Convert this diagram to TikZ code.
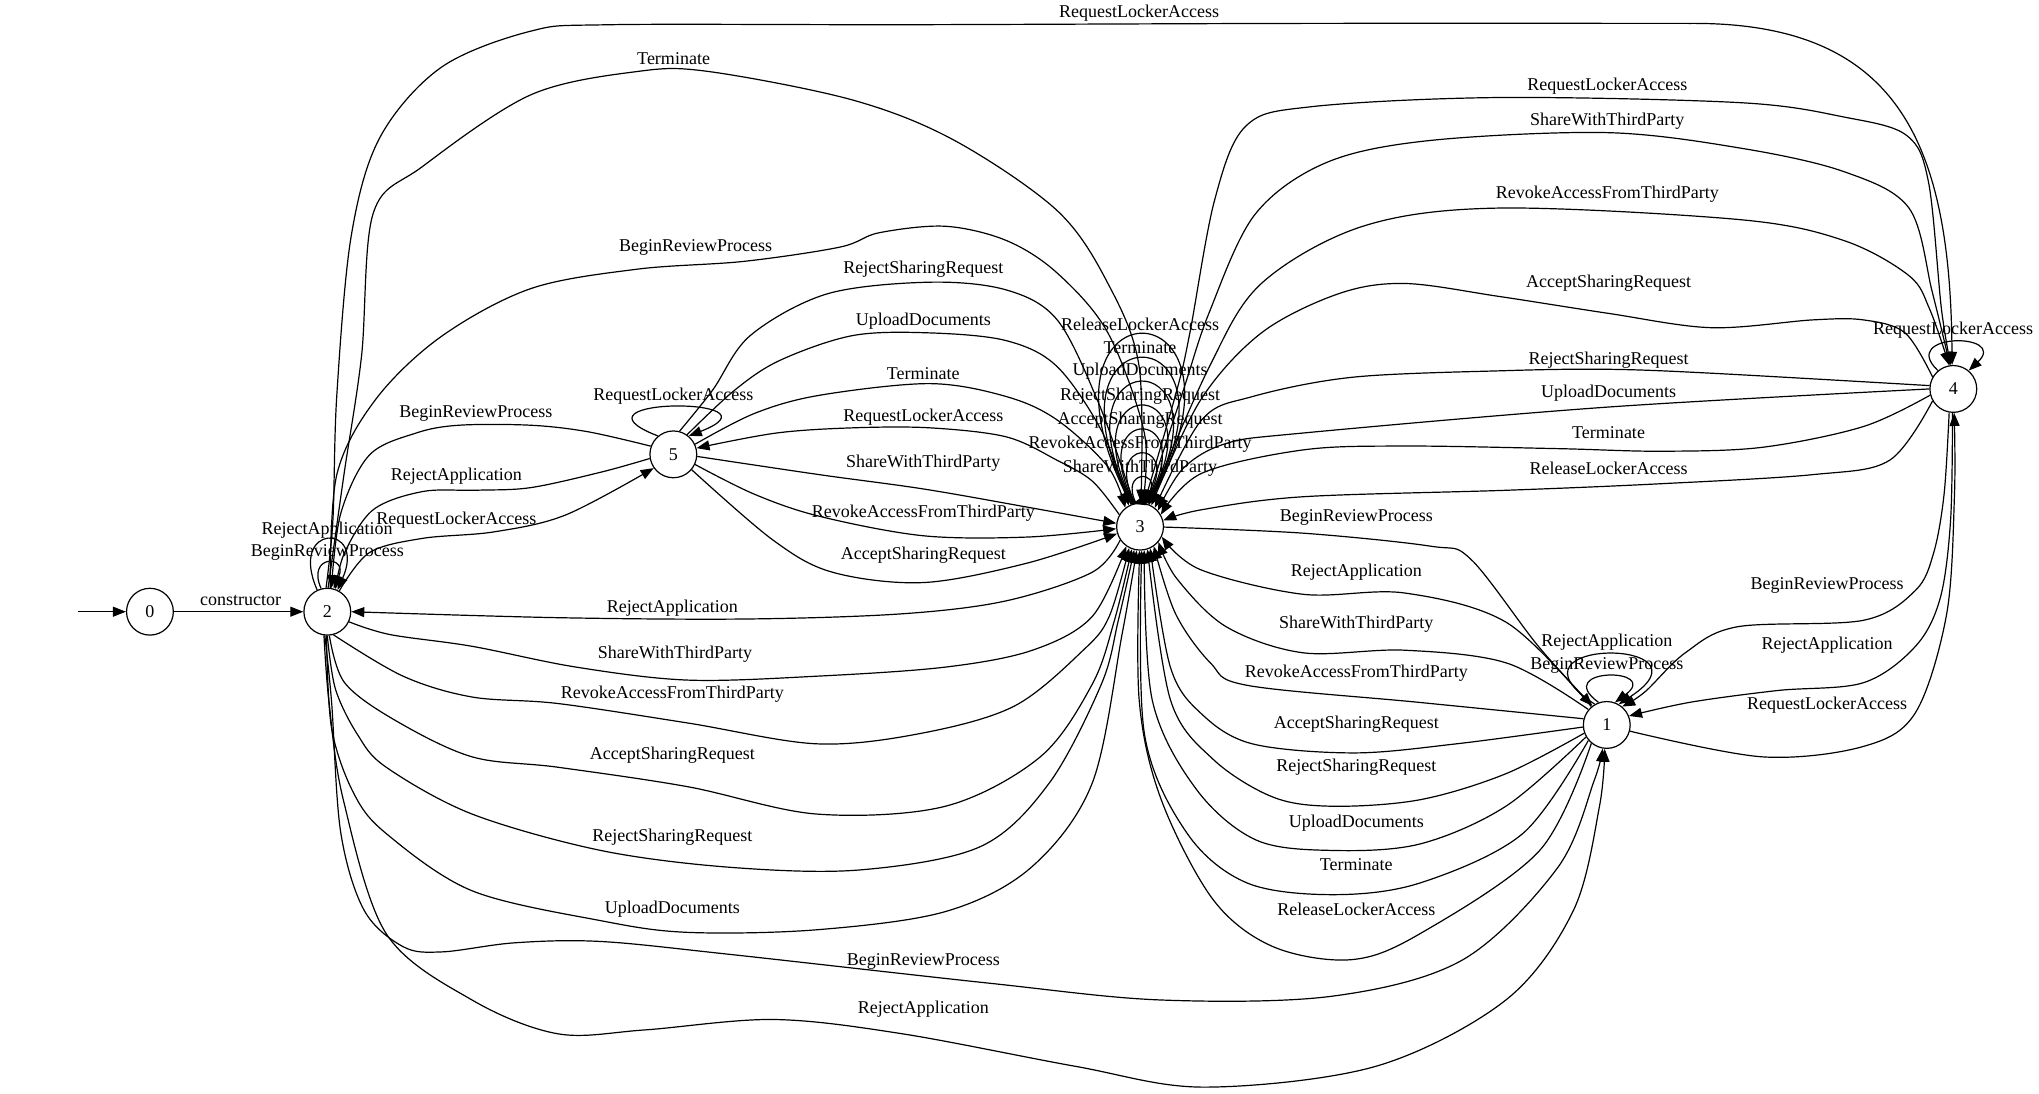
\documentclass[tikz,border=0pt]{standalone}
\usepackage{fontspec}
\setmainfont{Liberation Serif}
\usetikzlibrary{arrows.meta}
\tikzset{
  st/.style={circle, draw, line width=0.6pt, minimum size=23.4pt, inner sep=0pt, font=\fontsize{9}{10}\selectfont},
  lab/.style={inner sep=0pt, font=\fontsize{9}{10}\selectfont},
  e/.style={draw, line width=0.6pt, -{Triangle[length=6.5pt,width=5pt]}},
  sm/.style={smooth, tension=0.55},
}
\begin{document}
\begin{tikzpicture}[x=0.65pt,y=-0.65pt]
\useasboundingbox (0,0) rectangle (1568,841);
\fill[white] (0,0) rectangle (1568,841);
% states
\node[st] (N0) at (115.3,470.4) {0};
\node[st] (N2) at (251.7,470.4) {2};
\node[st] (N5) at (517.8,349.4) {5};
\node[st] (N3) at (876.7,405.0) {3};
\node[st] (N4) at (1502.1,299.1) {4};
\node[st] (N1) at (1235.6,557.5) {1};
\coordinate (S) at (59.7,470.4);
\draw[e] (S) -- (N0);
\draw[e] (N0) -- (N2);
% self loops on 2
\draw[e] (N2.115) .. controls (221.1,402) and (282.3,402) .. (N2.65);
\draw[e] (N2.105) .. controls (235.3,426.3) and (268.1,426.3) .. (N2.75);
% self loops on 3
\draw[e] (N3.100) .. controls (861.1,361.3) and (892.3,361.3) .. (N3.80);
\draw[e] (N3.102) .. controls (847.3,336.7) and (906.1,336.7) .. (N3.78);
\draw[e] (N3.104) .. controls (833.4,312.2) and (920.0,312.2) .. (N3.76);
\draw[e] (N3.106) .. controls (819.6,287.6) and (933.8,287.6) .. (N3.74);
\draw[e] (N3.108) .. controls (805.7,263.0) and (947.7,263.0) .. (N3.72);
\draw[e] (N3.110) .. controls (791.8,238.4) and (961.6,238.4) .. (N3.70);
\draw[e] (N3.112) .. controls (777.9,213.8) and (975.5,213.8) .. (N3.68);
% self loops on 1, 4, 5
\draw[e] (N1.120) .. controls (1146.8,490) and (1324.4,490) .. (N1.60);
\draw[e] (N1.110) .. controls (1192.6,513.1) and (1278.6,513.1) .. (N1.70);
\draw[e] (N4.130) .. controls (1459.2,255.6) and (1545,255.6) .. (N4.50);
\draw[e] (N5.130) .. controls (428.2,305.1) and (607.4,305.1) .. (N5.50);
% 2 -> 4 top
\draw[e] plot[sm] coordinates {(N2.93) (256,400) (259,304) (270,182) (292,106) (339,52) (408,24) (470,19) (700,19) (1000,18) (1300,18)} .. controls (1460,17) and (1500,110) .. (N4.93);
% 2 -> 3 Terminate, BeginReviewProcess
\draw[e] plot[sm] coordinates {(N2.88) (264.5,365) (278,274) (287,164) (325,128) (408,73) (490,55) (545,55) (656,77) (734,108) (813,162) (852,218) (876,282) (N3.88)};
\draw[e] plot[sm] coordinates {(N2.83) (259,365) (289,307) (339,259) (408,222) (490,207) (572,201) (646,190) (676,179) (727,174) (774,185) (813,210) (852,256) (880,333) (N3.84)};
% 5 -> 2
\draw[e] plot[sm] coordinates {(N5.160) (452,332) (408,327) (353,327) (320,333) (284,350) (262,395) (N2.80)};
\draw[e] plot[sm] coordinates {(N5.190) (462.5,363) (408,375) (366,377) (325,378) (287,392) (265,425) (N2.70)};
% 2 -> 5
\draw[e] plot[sm] coordinates {(N2.60) (284,425) (325,414) (380,409) (435,396) (N5.215)};
% 3 -> 2
\draw[e] plot[sm] coordinates {(N3.214) (840,440) (774,462) (694,472) (575,476) (429,475) (N2.0)};
% 2 -> 3 lower group
\draw[e] plot[sm] coordinates {(N2.-25) (300,488) (363,497) (443,513) (529,523) (628,520) (727,513) (794,500) (840,474) (N3.-125)};
\draw[e] plot[sm] coordinates {(N2.-75) (310,520) (363,536) (429,541) (529,556) (628,572) (708,564) (780,543) (833,500) (853,474) (N3.-117)};
\draw[e] plot[sm] coordinates {(N2.-85) (265,525) (304,554) (363,582) (429,590) (529,605) (628,626) (727,620) (800,582) (840,526) (857,477) (N3.-110)};
\draw[e] plot[sm] coordinates {(N2.-90) (258,530) (275,565) (297,590) (363,626) (462,654) (562,667) (661,669) (754,651) (807,602) (847,526) (860,477) (N3.-104)};
\draw[e] plot[sm] coordinates {(N2.-92) (255,560) (272,610) (297,641) (363,685) (462,708) (529,717) (628,715) (727,701) (793,667) (840,602) (863,487) (N3.-98)};
% 2 -> 1
\draw[e] plot[sm] coordinates {(N2.-96) (255,540) (262,640) (280,700) (310,728) (340,732) (396,725) (462,724) (562,734) (760,756) (893,769) (1025,766) (1125,738) (1198,667) (1226,600) (N1.-100)};
\draw[e] plot[sm] coordinates {(N2.-98) (253,540) (264,615) (297,718) (363,769) (429,795) (496,792) (595,784) (694,795) (827,820) (926,836) (1058,820) (1158,769) (1210,700) (1230,620) (N1.-95)};
% 3 -> 5
\draw[e] plot[sm] coordinates {(N3.150) (840,370) (813,354) (774,336) (715,329) (656,329) (597,333) (N5.15)};
% 5 -> 3
\draw[e] plot[sm] coordinates {(N5.75) (548,300) (577,258) (636,226) (715,217) (774,223) (813,246) (844,308) (868,375) (N3.108)};
\draw[e] plot[sm] coordinates {(N5.55) (565,300) (600,277) (656,258) (715,256) (774,262) (813,282) (848,333) (N3.118)};
\draw[e] plot[sm] coordinates {(N5.25) (580,318) (630,304) (715,295) (774,305) (813,323) (852,359) (N3.128)};
\draw[e] plot[sm] coordinates {(N5.-5) (630,365) (710,376) (790,390) (N3.172)};
\draw[e] plot[sm] coordinates {(N5.-25) (580,380) (630,397) (710,412) (790,413) (N3.185)};
\draw[e] plot[sm] coordinates {(N5.-40) (594,415) (640,440) (710,448) (790,433) (N3.197)};
% 3 -> 4
\draw[e] plot[sm] coordinates {(N3.80) (905,300) (915,256) (934,154) (958,97) (1009,82) (1153,75) (1339,79) (1418,90) (1466,104) (1483,140) (1493,238) (N4.96)};
\draw[e] plot[sm] coordinates {(N3.75) (910,300) (930,240) (965,165) (1020,125) (1100,108) (1236,102) (1339,114) (1418,132) (1468,160) (1486,225) (N4.98)};
\draw[e] plot[sm] coordinates {(N3.68) (930,282) (970,218) (1048,174) (1153,160) (1339,169) (1418,185) (1468,212) (1484,238) (N4.100)};
% 4 -> 3
\draw[e] plot[sm] coordinates {(N4.150) (1465,256) (1433,246) (1394,246) (1316,252) (1237,241) (1153,228) (1080,218) (1029,226) (970,256) (923,308) (N3.62)};
\draw[e] plot[sm] coordinates {(N4.172) (1316,287) (1237,284) (1159,285) (1041,290) (963,305) (924,323) (N3.52)};
\draw[e] plot[sm] coordinates {(N4.180) (1237,313) (1002,333) (943,341) (910,360) (N3.42)};
\draw[e] plot[sm] coordinates {(N4.195) (1433,328) (1355,344) (1277,347) (1198,345) (1080,343) (1002,346) (924,364) (N3.30)};
\draw[e] plot[sm] coordinates {(N4.210) (1453,354) (1394,365) (1277,372) (1159,377) (1002,382) (924,392) (N3.15)};
% 3 -> 1
\draw[e] plot[sm] coordinates {(N3.-1) (1002,410) (1100,420) (1131,430) (1183,497) (N1.127)};
% 1 -> 3
\draw[e] plot[sm] coordinates {(N1.130) (1159,479) (1080,456) (1002,457) (923,438) (N3.-25)};
\draw[e] plot[sm] coordinates {(N1.140) (1159,510) (1080,500) (1002,502) (943,482) (905,445) (N3.-40)};
\draw[e] plot[sm] coordinates {(N1.165) (1090,540) (959,527) (931,510) (904,472) (N3.-55)};
\draw[e] plot[sm] coordinates {(N1.185) (1120,572) (1041,579) (963,572) (924,549) (900,513) (N3.-65)};
\draw[e] plot[sm] coordinates {(N1.200) (1158,595) (1092,615) (1025,620) (979,613) (933,584) (900,538) (N3.-72)};
\draw[e] plot[sm] coordinates {(N1.210) (1158,620) (1092,649) (1025,654) (966,646) (920,607) (886,538) (N3.-80)};
\draw[e] plot[sm] coordinates {(N1.220) (1171,641) (1092,679) (1025,688) (959,679) (913,641) (880,564) (N3.-86)};
\draw[e] plot[sm] coordinates {(N1.230) (1184,654) (1092,718) (1039,738) (979,728) (933,692) (893,615) (876,538) (N3.-91)};
% 4 <-> 1
\draw[e] plot[sm] coordinates {(N4.-100) (1495,380) (1487,425) (1473,454) (1433,477) (1336,482) (1296,502) (1265,532) (N1.50)};
\draw[e] plot[sm] coordinates {(N4.-92) (1500,400) (1492,460) (1473,497) (1433,525) (1367,531) (1300,540) (N1.22)};
\draw[e] plot[sm] coordinates {(N1.-15) (1355,582) (1433,574) (1473,548) (1497,472) (1503,380) (N4.-88)};
% labels
\node[lab] (L1) at (185,462) {constructor};
\node[lab] (L2) at (876,10) {RequestLockerAccess};
\node[lab] (L3) at (518,45) {Terminate};
\node[lab] (L4) at (1236,66) {RequestLockerAccess};
\node[lab] (L5) at (1236,93) {ShareWithThirdParty};
\node[lab] (L6) at (1236,149) {RevokeAccessFromThirdParty};
\node[lab] (L7) at (535,190) {BeginReviewProcess};
\node[lab] (L8) at (710,207) {RejectSharingRequest};
\node[lab] (L9) at (1237,218) {AcceptSharingRequest};
\node[lab] (L10) at (710,247) {UploadDocuments};
\node[lab] (L11) at (876.7,249.2) {ReleaseLockerAccess};
\node[lab] (L12) at (1502,254) {RequestLockerAccess};
\node[lab] (L13) at (876.7,267.4) {Terminate};
\node[lab] (L14) at (1237,277) {RejectSharingRequest};
\node[lab] (L15) at (710,287) {Terminate};
\node[lab] (L16) at (876.7,285.8) {UploadDocuments};
\node[lab] (L17) at (1237,302) {UploadDocuments};
\node[lab] (L18) at (517.8,304.5) {RequestLockerAccess};
\node[lab] (L19) at (876.7,304.5) {RejectSharingRequest};
\node[lab] (L20) at (366,318) {BeginReviewProcess};
\node[lab] (L21) at (710,321) {RequestLockerAccess};
\node[lab] (L22) at (876.7,323) {AcceptSharingRequest};
\node[lab] (L23) at (1237,333) {Terminate};
\node[lab] (L24) at (876.7,341.4) {RevokeAccessFromThirdParty};
\node[lab] (L25) at (710,356) {ShareWithThirdParty};
\node[lab] (L26) at (1237,360) {ReleaseLockerAccess};
\node[lab] (L27) at (876.7,360.1) {ShareWithThirdParty};
\node[lab] (L28) at (351,366) {RejectApplication};
\node[lab] (L29) at (710,395) {RevokeAccessFromThirdParty};
\node[lab] (L30) at (1043,398) {BeginReviewProcess};
\node[lab] (L31) at (351,400) {RequestLockerAccess};
\node[lab] (L32) at (251.5,407.5) {RejectApplication};
\node[lab] (L33) at (251.7,425) {BeginReviewProcess};
\node[lab] (L34) at (710,427) {AcceptSharingRequest};
\node[lab] (L35) at (1043,440) {RejectApplication};
\node[lab] (L36) at (1405,450) {BeginReviewProcess};
\node[lab] (L37) at (517,468) {RejectApplication};
\node[lab] (L38) at (1043,480) {ShareWithThirdParty};
\node[lab] (L39) at (1235.6,494) {RejectApplication};
\node[lab] (L40) at (1405,496) {RejectApplication};
\node[lab] (L41) at (519,503) {ShareWithThirdParty};
\node[lab] (L42) at (1235.6,512) {BeginReviewProcess};
\node[lab] (L43) at (1043,518) {RevokeAccessFromThirdParty};
\node[lab] (L44) at (517,534) {RevokeAccessFromThirdParty};
\node[lab] (L45) at (1405,542) {RequestLockerAccess};
\node[lab] (L46) at (1043,557) {AcceptSharingRequest};
\node[lab] (L47) at (517,581) {AcceptSharingRequest};
\node[lab] (L48) at (1043,590) {RejectSharingRequest};
\node[lab] (L49) at (1043,633) {UploadDocuments};
\node[lab] (L50) at (517,644) {RejectSharingRequest};
\node[lab] (L51) at (1043,665) {Terminate};
\node[lab] (L52) at (517,699) {UploadDocuments};
\node[lab] (L53) at (1043,699) {ReleaseLockerAccess};
\node[lab] (L54) at (710,739) {BeginReviewProcess};
\node[lab] (L55) at (710,776) {RejectApplication};
\end{tikzpicture}
\end{document}
